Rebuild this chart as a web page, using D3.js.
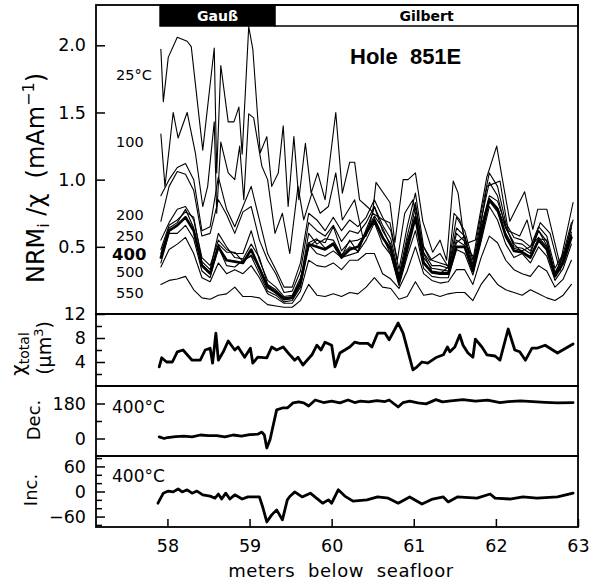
<!DOCTYPE html>
<html><head><meta charset="utf-8">
<script src="https://cdn.jsdelivr.net/npm/d3@7"></script>
<style>
body{margin:0;background:#fff}
svg{display:block}
text{font-family:"DejaVu Sans",sans-serif;fill:#000;white-space:pre}
</style>
</head><body>
<svg id="c" width="592" height="581"></svg>
<script>
// ---------- DATA ----------
const depth = [57.92,58.02,58.12,58.22,58.32,58.42,58.52,58.62,58.72,58.82,58.92,59.02,59.12,59.22,59.32,59.42,59.52,59.62,59.72,59.82,59.92,60.02,60.12,60.22,60.32,60.42,60.52,60.62,60.72,60.82,60.92,61.02,61.12,61.22,61.32,61.42,61.52,61.62,61.72,61.82,61.92,62.02,62.12,62.22,62.32,62.42,62.52,62.62,62.72,62.82,62.92];

const nrm25Depth = [57.92,57.95,58.01,58.12,58.24,58.29,58.43,58.57,58.60,58.65,58.74,58.81,58.87,58.91,58.99,59.04,59.13,59.21,59.27,59.35,59.41,59.47,59.54,59.60,59.68,59.75,59.83,59.92,60.05,60.13,60.22,60.28,60.34,60.43,60.50,60.54,60.71,60.77,60.87,60.93,61.02,61.11,61.23,61.32,61.40,61.48,61.54,61.62,61.75,61.89,62.01,62.08,62.17,62.35,62.45,62.51,62.62,62.78,62.94];
const nrm25 = [1.97,1.58,1.91,2.06,2.03,1.99,1.22,1.98,1.05,1.85,1.43,1.43,1.54,1.19,2.14,1.97,1.20,1.32,0.95,1.05,1.40,0.80,1.32,0.85,1.27,0.90,1.05,0.85,1.50,0.90,1.13,1.13,0.85,0.80,0.76,0.98,0.83,0.53,1.00,1.00,1.05,0.69,0.46,0.55,0.40,0.99,0.90,0.52,0.55,1.02,1.25,1.00,0.69,0.91,0.63,0.78,0.78,0.37,0.83];

const nrm100Depth = [57.92,57.97,58.07,58.13,58.24,58.34,58.43,58.49,58.57,58.60,58.65,58.74,58.82,58.88,58.93,58.99,59.05,59.15,59.22,59.31,59.40,59.49,59.59,59.66,59.76,59.86,59.96,60.05,60.13,60.28,60.38,60.50,60.63,60.71,60.80,60.89,60.99,61.08,61.20,61.32,61.42,61.49,61.56,61.65,61.75,61.89,62.05,62.15,62.29,62.38,62.45,62.54,62.66,62.78,62.94];
const nrm100 = [1.34,0.95,1.50,1.31,1.50,1.20,0.80,0.95,1.43,0.75,1.28,1.05,1.00,1.25,0.85,1.49,1.46,1.10,1.00,0.60,0.75,0.45,0.95,0.70,0.90,0.75,0.80,1.05,0.70,0.85,0.57,0.75,0.70,0.68,0.40,0.75,0.85,0.55,0.40,0.45,0.35,0.75,0.70,0.50,0.40,0.95,0.99,0.62,0.58,0.70,0.52,0.68,0.60,0.32,0.70];

const nrm150 = [0.88,1.00,1.09,1.12,1.00,0.62,0.65,1.02,0.78,0.65,0.80,0.95,0.70,0.45,0.33,0.20,0.20,0.38,0.75,0.70,0.62,0.72,0.62,0.70,0.65,0.72,0.85,0.72,0.62,0.33,0.65,0.90,0.50,0.40,0.38,0.36,0.72,0.62,0.40,0.75,1.05,0.95,0.68,0.57,0.55,0.50,0.65,0.58,0.34,0.45,0.68];
const nrm200 = [0.69,0.95,1.06,1.04,0.92,0.58,0.60,0.85,0.74,0.60,0.76,0.80,0.55,0.40,0.30,0.16,0.17,0.32,0.68,0.62,0.58,0.66,0.54,0.62,0.60,0.68,0.80,0.66,0.56,0.29,0.58,0.83,0.46,0.36,0.36,0.34,0.64,0.58,0.37,0.70,0.98,0.88,0.64,0.53,0.52,0.47,0.62,0.54,0.31,0.42,0.64];
const nrm250 = [0.55,0.68,0.78,0.80,0.70,0.42,0.36,0.55,0.48,0.45,0.45,0.62,0.40,0.25,0.20,0.13,0.14,0.27,0.50,0.55,0.53,0.65,0.47,0.54,0.55,0.58,0.80,0.62,0.52,0.27,0.53,0.70,0.42,0.34,0.33,0.32,0.60,0.54,0.35,0.65,0.88,0.84,0.66,0.50,0.49,0.45,0.62,0.51,0.30,0.40,0.61];
const nrm300 = [0.48,0.66,0.70,0.76,0.72,0.39,0.33,0.60,0.50,0.42,0.41,0.52,0.42,0.22,0.18,0.12,0.13,0.25,0.60,0.52,0.56,0.55,0.44,0.50,0.47,0.62,0.73,0.64,0.50,0.25,0.50,0.80,0.45,0.32,0.31,0.31,0.53,0.58,0.33,0.62,0.84,0.76,0.60,0.49,0.47,0.50,0.57,0.50,0.29,0.44,0.59];
const nrm350 = [0.45,0.64,0.68,0.78,0.64,0.37,0.31,0.52,0.46,0.46,0.39,0.44,0.35,0.21,0.17,0.11,0.12,0.24,0.53,0.56,0.49,0.53,0.43,0.55,0.46,0.61,0.71,0.58,0.44,0.24,0.55,0.73,0.39,0.31,0.30,0.35,0.55,0.51,0.32,0.55,0.86,0.79,0.64,0.52,0.46,0.43,0.56,0.55,0.28,0.38,0.58];
const nrm400 = [0.42,0.62,0.66,0.72,0.62,0.36,0.30,0.50,0.40,0.39,0.38,0.48,0.34,0.20,0.16,0.11,0.12,0.23,0.52,0.50,0.48,0.52,0.42,0.48,0.50,0.60,0.70,0.57,0.48,0.24,0.48,0.72,0.38,0.31,0.30,0.30,0.50,0.50,0.32,0.60,0.85,0.78,0.58,0.47,0.46,0.42,0.55,0.48,0.28,0.38,0.57];
const nrm450 = [0.38,0.60,0.60,0.66,0.56,0.32,0.27,0.50,0.36,0.35,0.40,0.43,0.30,0.17,0.14,0.09,0.10,0.20,0.52,0.45,0.43,0.47,0.42,0.44,0.46,0.55,0.68,0.52,0.44,0.21,0.43,0.62,0.34,0.28,0.27,0.27,0.48,0.45,0.29,0.54,0.80,0.70,0.52,0.42,0.45,0.38,0.50,0.43,0.25,0.34,0.52];
const nrm500 = [0.35,0.48,0.52,0.57,0.45,0.27,0.24,0.38,0.30,0.33,0.30,0.36,0.27,0.15,0.12,0.08,0.08,0.17,0.40,0.36,0.35,0.38,0.33,0.40,0.40,0.45,0.45,0.30,0.26,0.19,0.32,0.50,0.30,0.25,0.23,0.24,0.33,0.33,0.22,0.42,0.58,0.53,0.40,0.33,0.30,0.28,0.36,0.32,0.20,0.26,0.40];
const nrm550 = [0.22,0.25,0.26,0.28,0.18,0.12,0.11,0.14,0.15,0.20,0.13,0.13,0.12,0.07,0.06,0.05,0.05,0.10,0.22,0.14,0.13,0.15,0.13,0.16,0.15,0.20,0.27,0.20,0.19,0.11,0.13,0.24,0.14,0.15,0.13,0.15,0.16,0.16,0.10,0.22,0.30,0.22,0.18,0.16,0.14,0.18,0.15,0.12,0.10,0.14,0.22];

const chiDepth = [57.90,57.93,57.99,58.06,58.12,58.19,58.30,58.40,58.46,58.52,58.55,58.59,58.62,58.68,58.74,58.82,58.86,58.94,59.01,59.04,59.10,59.21,59.27,59.33,59.41,59.49,59.55,59.59,59.65,59.76,59.82,59.87,59.92,60.00,60.04,60.10,60.16,60.22,60.28,60.34,60.44,60.49,60.56,60.65,60.70,60.81,60.87,60.99,61.04,61.10,61.17,61.28,61.36,61.41,61.44,61.50,61.56,61.60,61.66,61.72,61.75,61.83,61.89,61.99,62.05,62.15,62.23,62.29,62.36,62.44,62.50,62.60,62.75,62.94];
const chiValue = [3.2,4.7,4.0,4.0,5.7,6.0,4.3,4.3,6.0,6.3,3.8,8.8,4.3,5.7,7.5,6.0,6.5,4.8,6.3,3.8,4.8,4.7,6.5,6.0,6.5,5.2,4.3,4.8,3.5,5.2,6.8,6.0,7.3,6.8,3.2,5.5,6.0,6.5,7.3,7.1,7.1,6.5,8.8,8.8,7.7,10.5,8.8,2.7,3.2,4.0,3.8,4.8,5.2,6.5,5.7,6.5,8.5,6.8,5.5,4.8,7.8,6.5,5.2,5.0,4.3,9.5,6.0,5.7,4.3,6.3,6.3,6.8,5.5,7.0];

const decDepth = [57.90,57.96,58.00,58.10,58.20,58.30,58.40,58.50,58.60,58.70,58.80,58.90,59.00,59.10,59.15,59.18,59.21,59.25,59.33,59.40,59.46,59.53,59.60,59.66,59.72,59.80,59.90,60.00,60.10,60.20,60.28,60.35,60.45,60.55,60.65,60.70,60.81,60.87,60.95,61.05,61.15,61.27,61.35,61.45,61.60,61.75,61.90,62.05,62.15,62.30,62.45,62.60,62.75,62.94];
const decValue = [8,0,5,10,12,8,18,15,15,8,18,12,20,22,33,18,-49,-5,147,157,157,183,188,183,167,198,185,192,183,198,185,192,188,195,190,198,162,185,192,183,178,200,188,193,200,192,197,185,190,193,190,186,183,185];

const incDepth = [57.885,57.95,58.01,58.07,58.13,58.18,58.24,58.30,58.36,58.43,58.52,58.58,58.62,58.66,58.71,58.76,58.82,58.91,58.98,59.07,59.12,59.16,59.21,59.27,59.33,59.40,59.46,59.49,59.55,59.64,59.74,59.89,59.96,60.00,60.08,60.16,60.26,60.43,60.56,60.69,60.81,60.95,61.10,61.23,61.36,61.42,61.53,61.77,61.93,61.99,62.17,62.33,62.50,62.75,62.94];
const incValue = [-28,-4,1,-1,6,-1,4,-4,1,-8,-11,-16,-6,-18,-4,-18,-8,-18,-13,-13,-13,-37,-73,-56,-44,-68,-20,-12,-1,-13,-4,-28,-20,-28,4,-11,-23,-20,-13,-16,-28,-13,-30,-18,-13,-25,-13,-16,-6,-16,-18,-13,-16,-13,-4];

const chronNames = ["Gauß","Gilbert"];
const chronStart = [57.91, 59.31];
const chronEnd = [59.31, 63.0];

const nrmTicks = [0.5,1.0,1.5,2.0];
const chiTicks = [4,8,12];
const chiMinor = [2,6,10];
const decTicks = [0,180];
const decMinor = [90];
const incTicks = [-60,0,60];
const incMinor = [-80,-40,-20,20,40,80];
const xTicks = [58,59,60,61,62,63];

const tempLabels = ["25°C","100","200","250","400","500","550"];

// ---------- LAYOUT ----------
const svg = d3.select("#c");
const L = 96, R = 578;
const x = d3.scaleLinear().domain([57.13,63]).range([L,R]);
const yN = d3.scaleLinear().domain([0,2.3]).range([314,5]);
const yC = d3.scaleLinear().domain([0,12]).range([386,314]);
const yD = d3.scaleLinear().domain([-90,270]).range([456,386]);
const yI = d3.scaleLinear().domain([-85,85]).range([527,456]);

function drawLine(xs, ys, y, w){
  const line = d3.line().x(d=>x(d[0])).y(d=>y(d[1]));
  svg.append("path").datum(d3.zip(xs, ys)).attr("d", line)
    .attr("fill","none").attr("stroke","#000").attr("stroke-width",w)
    .attr("stroke-linejoin","round").attr("stroke-linecap","round");
}

// NRM lines
drawLine(nrm25Depth, nrm25, yN, 1.1);
drawLine(nrm100Depth, nrm100, yN, 1.1);
[nrm150,nrm200,nrm250,nrm300,nrm350,nrm450,nrm500,nrm550].forEach(s=>drawLine(depth, s, yN, 1.1));
drawLine(depth, nrm400, yN, 2.6);

drawLine(chiDepth, chiValue, yC, 2.8);
drawLine(decDepth, decValue, yD, 2.8);
drawLine(incDepth, incValue, yI, 2.8);

// chron bar
chronNames.forEach((n,i)=>{
  const x0 = x(chronStart[i]), x1 = x(chronEnd[i]);
  svg.append("rect").attr("x",x0).attr("y",5).attr("width",x1-x0).attr("height",21)
    .attr("fill", i===0?"#000":"#fff").attr("stroke","#000").attr("stroke-width",1.5);
  svg.append("text").attr("x",(x0+x1)/2).attr("y",21).attr("text-anchor","middle")
    .style("font-size","14px").style("font-weight","bold").style("fill", i===0?"#fff":"#000").text(n);
});

// frames
[[5,314],[314,386],[386,456],[456,527]].forEach(([t,b])=>{
  svg.append("rect").attr("x",L).attr("y",t).attr("width",R-L).attr("height",b-t)
    .attr("fill","none").attr("stroke","#000").attr("stroke-width",1.8);
});

function leftAxis(scale, major, minor, fmt){
  const g = svg.append("g").attr("transform",`translate(${L},0)`);
  g.call(d3.axisLeft(scale).tickValues(major).tickSize(-9).tickPadding(10).tickFormat(fmt));
  g.select(".domain").remove();
  g.attr("font-family","DejaVu Sans").attr("font-size",17.5);
  g.selectAll("line").attr("stroke-width",1.5);
  if(minor){
    const m = svg.append("g").attr("transform",`translate(${L},0)`);
    m.call(d3.axisLeft(scale).tickValues(minor).tickSize(-6).tickFormat(()=>""));
    m.select(".domain").remove();
    m.selectAll("line").attr("stroke-width",1.5);
  }
}
leftAxis(yN, nrmTicks, null, d3.format(".1f"));
leftAxis(yC, chiTicks, chiMinor, d3.format("d"));
leftAxis(yD, decTicks, decMinor, d3.format("d"));
leftAxis(yI, incTicks, incMinor, d3.format("d"));

const gx = svg.append("g").attr("transform","translate(0,527)");
gx.call(d3.axisBottom(x).tickValues(xTicks).tickSize(-8).tickPadding(13).tickFormat(d3.format("d")));
gx.select(".domain").remove();
gx.attr("font-family","DejaVu Sans").attr("font-size",17.5);
gx.selectAll("line").attr("stroke-width",1.5);

svg.append("text").attr("x",341).attr("y",577).attr("text-anchor","middle")
  .style("font-size","18px").style("letter-spacing","0.6px").text("meters  below  seafloor");

// temperature labels
const tempY = [1.78,1.28,0.74,0.585,0.445,0.315,0.16];
tempLabels.forEach((t,i)=>{
  const bold = t==="400";
  svg.append("text").attr("x", bold?112:116).attr("y", yN(tempY[i])).attr("dy","0.36em")
    .style("font-size", bold?"16.5px":"14.5px").style("font-weight", bold?"bold":"normal")
    .text(t);
});

svg.append("text").attr("x",350).attr("y",64)
  .style("font-family","'Liberation Sans',sans-serif").style("font-size","22px").style("font-weight","bold")
  .text("Hole  851E");

// panel annotations
svg.append("text").attr("x",112).attr("y",413).style("font-size","17px").text("400°C");
svg.append("text").attr("x",112).attr("y",482).style("font-size","17px").text("400°C");

// y labels
const ny = svg.append("text").attr("transform","translate(44,178) rotate(-90)").attr("text-anchor","middle").style("font-size","24px");
ny.append("tspan").text("NRM");
ny.append("tspan").style("font-size","16px").attr("dy",5).text("i");
ny.append("tspan").attr("dy",-5).text(" /χ  (mAm");
ny.append("tspan").style("font-size","16px").attr("dy",-10).text("−1");
ny.append("tspan").attr("dy",10).text(")");

const cy = svg.append("text").attr("transform","translate(25,354) rotate(-90)").attr("text-anchor","middle").style("font-size","20px");
cy.append("tspan").text("χ");
cy.append("tspan").style("font-size","14px").attr("dy",4).text("total");
const cy2 = svg.append("text").attr("transform","translate(51,348) rotate(-90)").attr("text-anchor","middle").style("font-size","19px");
cy2.append("tspan").text("(μm");
cy2.append("tspan").style("font-size","13px").attr("dy",-8).text("3");
cy2.append("tspan").attr("dy",8).text(")");

svg.append("text").attr("transform","translate(40,420) rotate(-90)").attr("text-anchor","middle").style("font-size","18px").text("Dec.");
svg.append("text").attr("transform","translate(37,490) rotate(-90)").attr("text-anchor","middle").style("font-size","18px").text("Inc.");
</script>
</body></html>
